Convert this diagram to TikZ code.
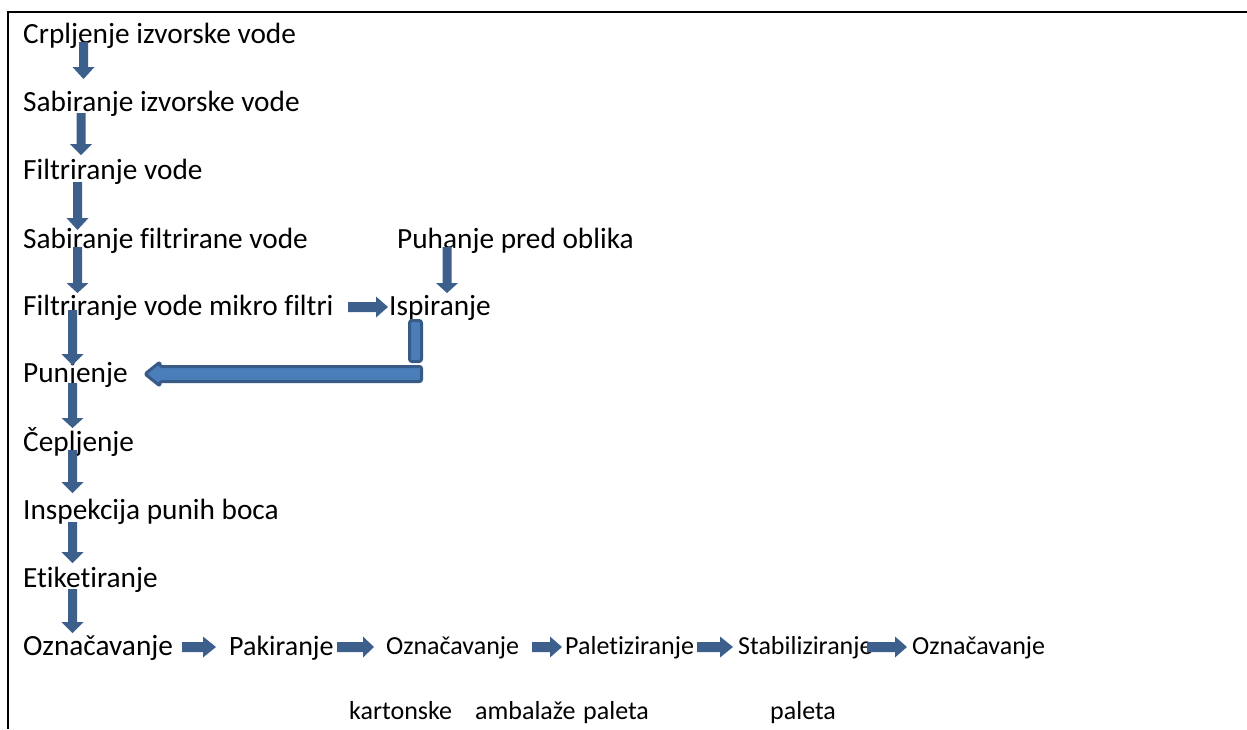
\documentclass[tikz,border=0pt]{standalone}
\usepackage{fontspec}
\setmainfont[Ligatures=NoCommon]{Carlito}
\definecolor{arrowblue}{RGB}{60,95,140}
\definecolor{lightblue}{RGB}{74,126,187}
\definecolor{darkedge}{RGB}{56,90,135}
\newcommand{\blkdown}[4]{%
  \fill[arrowblue] (#1-4.5,#2) -- (#1+4.5,#2) -- (#1+4.5,#3) -- (#1+11,#3) -- (#1,#4) -- (#1-11,#3) -- (#1-4.5,#3) -- cycle;}
\newcommand{\blkright}[4]{%
  \fill[arrowblue] (#2,#1-5) -- (#3,#1-5) -- (#3,#1-10.5) -- (#4,#1) -- (#3,#1+10.5) -- (#3,#1+5) -- (#2,#1+5) -- cycle;}
\tikzset{
  lbl/.style={anchor=base west, inner sep=0pt, font=\fontsize{29.3}{34}\selectfont},
  lblm/.style={anchor=base west, inner sep=0pt, font=\fontsize{28}{33}\selectfont},
  lbls/.style={anchor=base west, inner sep=0pt, font=\fontsize{26}{31}\selectfont},
  frame/.style={line width=2.6pt, black}
}
\begin{document}
\begin{tikzpicture}[x=1pt,y=-1pt]
\useasboundingbox (0,0) rectangle (1247,729);
% frame
\draw[frame] (1247,12) -- (8,12) -- (8,729);
% main column
\node[lbl] (n1) at (23,43) {Crpljenje izvorske vode};
\node[lbl] (n2) at (23,111) {Sabiranje izvorske vode};
\node[lbl] (n3) at (23,179) {Filtriranje vode};
\node[lbl] (n4) at (23,248) {Sabiranje filtrirane vode};
\node[lbl] (n5) at (23,315) {Filtriranje vode mikro filtri};
\node[lbl] (n6) at (23,382) {Punjenje};
\node[lbl] (n7) at (23,451) {Čepljenje};
\node[lbl] (n8) at (23,519) {Inspekcija punih boca};
\node[lbl] (n9) at (23,587) {Etiketiranje};
\node[lbl] (n10) at (23,655) {Označavanje};
% side branch
\node[lbl] (puh) at (397,248) {Puhanje pred oblika};
\node[lbl] (isp) at (389,315) {Ispiranje};
% bottom row
\node[lblm] (pak) at (229,655) {Pakiranje};
\node[lbls] (o2) at (386,654) {Označavanje};
\node[lbls] (pal) at (565,654) {Paletiziranje};
\node[lbls] (stab) at (738,654) {Stabiliziranje};
\node[lbls] (o3) at (912,654) {Označavanje};
\node[lbls] (kar) at (349,719) {kartonske};
\node[lbls] (amb) at (475,719) {ambalaže};
\node[lbls] (pl1) at (583,719) {paleta};
\node[lbls] (pl2) at (770,719) {paleta};
% vertical arrows
\blkdown{83.5}{42}{67}{79}
\blkdown{81}{113}{144}{155}
\blkdown{77.5}{182}{218}{230}
\blkdown{77.5}{247}{283}{293}
\blkdown{72.5}{310}{354}{365}
\blkdown{72.5}{383}{418}{428}
\blkdown{72.5}{450}{482}{493}
\blkdown{72.5}{522}{552}{563}
\blkdown{72.5}{589}{622}{633}
\blkdown{447}{247}{283}{293}
% horizontal arrows
\blkright{307}{348}{376}{388}
\blkright{647}{182}{203}{216}
\blkright{647}{337}{363}{374}
\blkright{647}{532}{550}{562}
\blkright{647}{697}{720}{733}
\blkright{647}{867}{895}{907}
% return path Ispiranje -> Punjenje
\draw[fill=lightblue, draw=darkedge, line width=3pt, rounded corners=2.5pt] (409.5,320.5) rectangle (421.5,361.5);
\draw[fill=lightblue, draw=darkedge, line width=3pt, rounded corners=2pt, line join=round]
  (421.5,366.5) -- (421.5,381.5) -- (160,381.5) -- (160,386) -- (145,374) -- (160,362) -- (160,366.5) -- cycle;
\end{tikzpicture}
\end{document}
